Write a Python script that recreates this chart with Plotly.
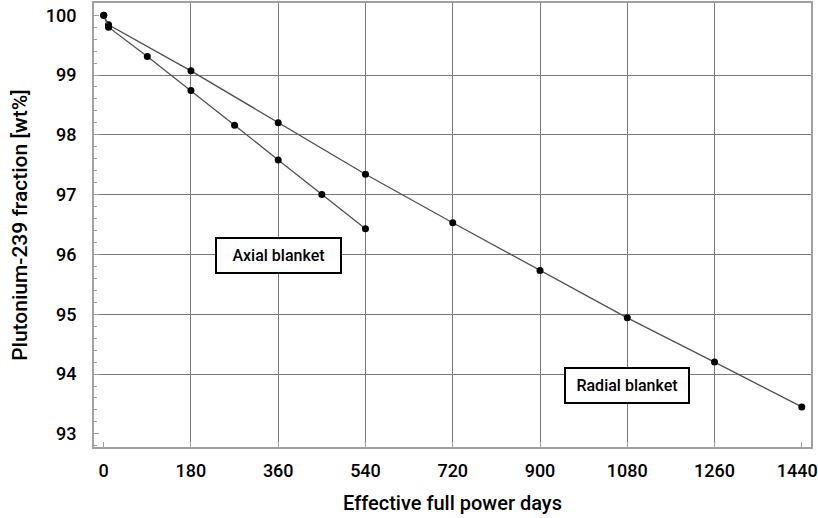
import plotly.graph_objects as go

# Data
radial_days = [0, 10, 180, 360, 540, 720, 900, 1080, 1260, 1440]
radial_pu239 = [100.0, 99.84, 99.07, 98.20, 97.34, 96.53, 95.73, 94.94, 94.20, 93.45]
axial_days = [0, 10, 90, 180, 270, 360, 450, 540]
axial_pu239 = [100.0, 99.80, 99.31, 98.74, 98.16, 97.58, 97.00, 96.43]

x_ticks = [0, 180, 360, 540, 720, 900, 1080, 1260, 1440]
x_tick_labels = ["0", "180", "360", "540", "720", "900", "1080", "1260", "1440\u2002"]
y_ticks = [93, 94, 95, 96, 97, 98, 99, 100]
x_grid = [180, 360, 540, 720, 900, 1080, 1260]
y_grid = [94, 95, 96, 97, 98, 99]

FONT = "Roboto"
LINE_COL = "#505050"
AX_COL = "#a0a0a0"
GRID_COL = "#7a7a7a"
xr = [-20, 1459]
yr = [92.78, 100.204]

fig = go.Figure()
for xs, ys, name in [(radial_days, radial_pu239, "Radial blanket"),
                     (axial_days, axial_pu239, "Axial blanket")]:
    fig.add_trace(go.Scatter(
        x=xs, y=ys, mode="lines+markers", name=name,
        line=dict(color=LINE_COL, width=1.3),
        marker=dict(color="black", size=7),
        xaxis="x", yaxis="y", showlegend=False,
    ))
# invisible trace to anchor the grid axes
fig.add_trace(go.Scatter(x=[xr[0]], y=[yr[0]], mode="markers", marker=dict(opacity=0),
                         xaxis="x2", yaxis="y2", showlegend=False, hoverinfo="skip"))

tickfont = dict(family=FONT, size=18, color="black", weight=500)
xtitlefont = dict(family=FONT, size=20, color="black", weight=500)
ytitlefont = dict(family=FONT, size=21, color="black", weight=500)

fig.update_layout(
    width=818, height=518,
    margin=dict(l=94, r=7, t=3, b=71),
    paper_bgcolor="white", plot_bgcolor="white",
    xaxis=dict(
        range=xr, tickvals=x_ticks, ticktext=x_tick_labels,
        ticks="inside", ticklen=5, tickcolor=AX_COL, tickwidth=1,
        showgrid=False, zeroline=False, automargin=False,
        showline=True, linecolor=AX_COL, linewidth=2, mirror=True,
        tickfont=tickfont, ticklabelstandoff=6, ticklabeloverflow="allow",
        title=dict(text="Effective full power days", font=xtitlefont, standoff=16),
    ),
    yaxis=dict(
        range=yr, tickvals=y_ticks, ticktext=[str(v) for v in y_ticks],
        ticks="inside", ticklen=5, tickcolor=AX_COL, tickwidth=1,
        minor=dict(dtick=0.2, tick0=93, ticks="inside", ticklen=3,
                   tickcolor=AX_COL, showgrid=False),
        showgrid=False, zeroline=False, automargin=False,
        showline=True, linecolor=AX_COL, linewidth=2, mirror=True,
        tickfont=tickfont, ticklabelstandoff=12, ticklabeloverflow="allow",
        title=dict(text="Plutonium-239 fraction [wt%]", font=ytitlefont, standoff=12),
    ),
    xaxis2=dict(
        range=xr, overlaying="x", tickvals=x_grid, showticklabels=False,
        ticks="", showgrid=True, gridcolor=GRID_COL, gridwidth=1,
        zeroline=False, showline=False, automargin=False,
    ),
    yaxis2=dict(
        range=yr, overlaying="y", tickvals=y_grid, showticklabels=False,
        ticks="", showgrid=True, gridcolor=GRID_COL, gridwidth=1,
        zeroline=False, showline=False, automargin=False,
    ),
)

annot_font = dict(family=FONT, size=16, color="black", weight=500)
fig.add_annotation(x=0.2573, y=0.432, xref="paper", yref="paper",
                   xanchor="center", yanchor="middle",
                   text="Axial blanket", showarrow=False, font=annot_font,
                   bgcolor="white", bordercolor="black", borderwidth=2,
                   borderpad=6, width=111, height=21)
fig.add_annotation(x=0.7434, y=0.1374, xref="paper", yref="paper",
                   xanchor="center", yanchor="middle",
                   text="Radial blanket", showarrow=False, font=annot_font,
                   bgcolor="white", bordercolor="black", borderwidth=2,
                   borderpad=6, width=110, height=21)

fig.write_html("out.html")
